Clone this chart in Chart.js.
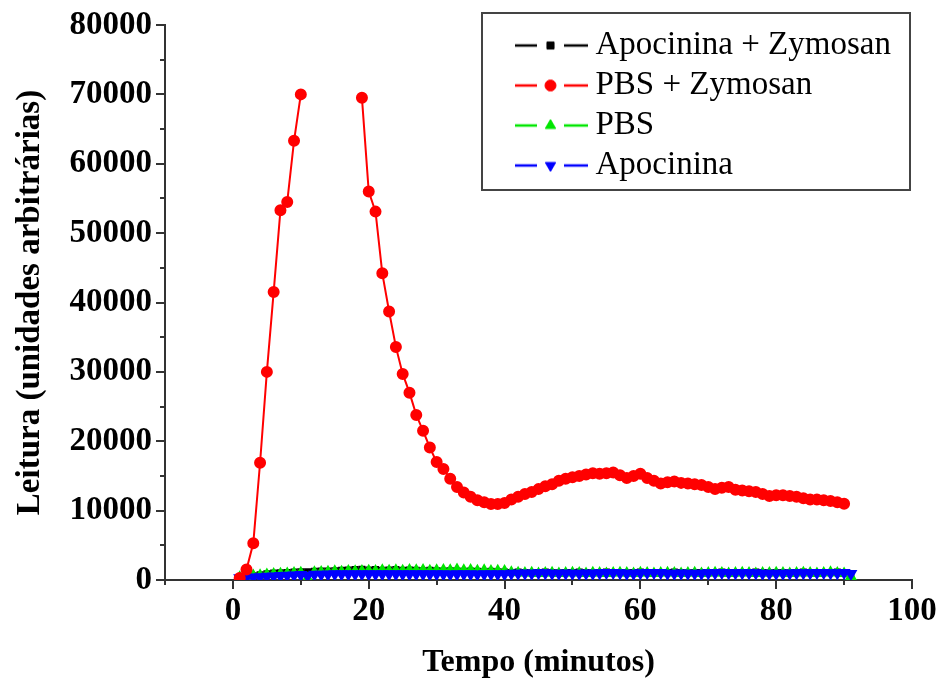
<!DOCTYPE html>
<html>
<head>
<meta charset="utf-8">
<script src="https://cdn.jsdelivr.net/npm/chart.js@4/dist/chart.umd.min.js"></script>
<style>
  html, body { margin: 0; padding: 0; background: #ffffff; }
  #wrap { width: 942px; height: 686px; }
</style>
</head>
<body>
<div id="wrap"><canvas id="c" width="942" height="686"></canvas></div>
<script>
// ---------------- DATA ----------------
const minutes = [1,2,3,4,5,6,7,8,9,10,11,12,13,14,15,16,17,18,19,20,
  21,22,23,24,25,26,27,28,29,30,31,32,33,34,35,36,37,38,39,40,
  41,42,43,44,45,46,47,48,49,50,51,52,53,54,55,56,57,58,59,60,
  61,62,63,64,65,66,67,68,69,70,71,72,73,74,75,76,77,78,79,80,
  81,82,83,84,85,86,87,88,89,90,91];

const seriesNames = ["Apocinina + Zymosan", "PBS + Zymosan", "PBS", "Apocinina"];

// Apocinina + Zymosan (black)
const apoZym = [300,450,600,750,900,1000,1050,1100,1150,1200,
  1200,1250,1300,1300,1350,1400,1450,1500,1550,1450,
  1500,1400,1450,1500,1400,1450,1400,1350,1400,1350,
  1300,1350,1300,1250,1300,1250,1200,1250,1200,1150,
  1100,1150,1100,1050,1100,1150,1100,1050,1100,1100,
  1150,1100,1050,1100,1150,1100,1100,1050,1100,1150,
  1100,1050,1100,1100,1150,1100,1050,1100,1100,1050,
  1100,1150,1100,1050,1100,1100,1150,1100,1050,1100,
  1100,1050,1100,1150,1100,1050,1100,1100,1150,1100,600];

// PBS + Zymosan (red); null = off-scale readings not plotted
const pbsZym = [300,1500,5300,16900,30000,41500,53300,54500,63300,70000,
  null,null,null,null,null,null,null,null,69500,56000,
  53100,44200,38700,33600,29700,27000,23800,21500,19100,17000,
  16000,14600,13400,12600,12000,11500,11200,10950,10950,11100,
  11600,12000,12400,12700,13100,13500,13800,14300,14600,14800,
  15000,15200,15400,15300,15400,15500,15100,14700,15000,15300,
  14700,14300,13900,14100,14200,14000,13900,13800,13700,13400,
  13100,13300,13400,13000,12900,12800,12700,12400,12100,12200,
  12200,12100,12000,11800,11600,11600,11500,11400,11200,11000];

// PBS (green)
const pbs = [400,500,650,700,800,850,900,950,1000,1050,
  250,1100,1150,1200,1250,1200,1300,1250,1300,1350,
  1300,1400,1350,1400,1350,1450,1400,1450,1350,1400,
  1450,1400,1500,1400,1450,1350,1400,1300,1350,1300,
  1100,1050,1000,1050,950,1000,1050,950,1000,1050,
  1000,950,1050,1000,950,1000,1050,1000,950,1050,
  1000,950,1000,1050,1000,950,1000,1050,950,1000,
  1050,1000,950,1000,1050,1000,950,1000,1000,1050,
  1000,950,1000,1050,1000,950,1000,1100,1000,950,500];

// Apocinina (blue)
const apo = [300,350,400,450,500,550,600,650,700,750,
  600,800,800,820,850,850,860,850,870,860,
  850,860,870,860,850,860,870,860,850,860,
  850,840,850,860,850,840,850,860,850,850,
  950,950,960,950,1000,1000,950,950,960,950,
  950,960,950,1000,1050,1050,1000,950,950,1000,
  1050,1050,1050,950,950,960,950,950,950,1000,
  1000,1050,1000,1000,1000,1000,1000,950,950,950,
  950,960,1000,1000,1000,1050,1050,1000,1000,1050,900];

const xTickValues = [0,20,40,60,80,100];
const xMinorValues = [-10,10,30,50,70,90];
const yMinorValues = [5000,15000,25000,35000,45000,55000,65000,75000];

// ---------------- HELPERS ----------------
function toPoints(vals) {
  return vals.map((v, i) => ({ x: minutes[i], y: v }));
}

const FONT = "'Liberation Serif', 'Times New Roman', serif";

function legendSymbol(color, style, rotation, radius) {
  const cv = document.createElement('canvas');
  cv.width = 75; cv.height = 20;
  const g = cv.getContext('2d');
  g.strokeStyle = color; g.lineWidth = 2.5;
  g.beginPath(); g.moveTo(0, 10); g.lineTo(24, 10); g.moveTo(51, 10); g.lineTo(75, 10); g.stroke();
  g.fillStyle = color; g.strokeStyle = color; g.lineWidth = 1;
  if (Chart.helpers && Chart.helpers.drawPoint) {
    Chart.helpers.drawPoint(g, { pointStyle: style, radius: radius, rotation: rotation, borderWidth: 1 }, 37.5, 10);
  }
  return cv;
}

const colors = ['#000000', '#ff0000', '#00e600', '#0000ff'];
const styles = ['rect', 'circle', 'triangle', 'triangle'];
const rotations = [0, 0, 0, 180];
const radii = [5, 5.5, 6, 6];
const symbols = colors.map((c, i) => legendSymbol(c, styles[i], rotations[i], radii[i]));

// minor ticks + legend frame plugin
const decor = {
  id: 'decor',
  afterLayout(chart) {
    const lg = chart.legend;
    if (!lg) return;
    const ca = chart.chartArea;
    lg.left = ca.right - 397; lg.top = ca.top - 3;
    lg.right = lg.left + lg.width; lg.bottom = lg.top + lg.height;
  },
  beforeDatasetsDraw(chart) {
    const ctx = chart.ctx;
    const lg = chart.legend;
    const ca = chart.chartArea;
    ctx.save();
    ctx.strokeStyle = '#444'; ctx.lineWidth = 2;
    ctx.strokeRect(lg.left - 33, lg.top - 9, (ca.right - 2) - (lg.left - 33), 177);
    // minor ticks
    const xs = chart.scales.x, ys = chart.scales.y;
    ctx.strokeStyle = '#333'; ctx.lineWidth = 2;
    ctx.beginPath();
    xMinorValues.forEach(v => {
      const px = Math.round(xs.getPixelForValue(v));
      ctx.moveTo(px, ys.bottom); ctx.lineTo(px, ys.bottom + 5);
    });
    yMinorValues.forEach(v => {
      const py = Math.round(ys.getPixelForValue(v));
      ctx.moveTo(xs.left, py); ctx.lineTo(xs.left - 5, py);
    });
    ctx.stroke();
    ctx.restore();
  }
};

const datasets = [
  { label: seriesNames[0], data: toPoints(apoZym), borderColor: colors[0], backgroundColor: colors[0],
    pointStyle: 'rect', pointRadius: 3.5, borderWidth: 2, order: 4 },
  { label: seriesNames[1], data: toPoints(pbsZym), borderColor: colors[1], backgroundColor: colors[1],
    pointStyle: 'circle', pointRadius: 5, borderWidth: 2, order: 1, spanGaps: false },
  { label: seriesNames[2], data: toPoints(pbs), borderColor: colors[2], backgroundColor: colors[2],
    pointStyle: 'triangle', pointRadius: 5, borderWidth: 2, order: 3 },
  { label: seriesNames[3], data: toPoints(apo), borderColor: colors[3], backgroundColor: colors[3],
    pointStyle: 'triangle', pointRotation: 180, pointRadius: 5.5, borderWidth: 2, order: 2 }
];

new Chart(document.getElementById('c'), {
  type: 'line',
  data: { datasets },
  plugins: [decor],
  options: {
    responsive: false,
    animation: false,
    events: [],
    layout: { padding: { left: 0, right: 30, top: 25, bottom: 0 } },
    elements: { line: { tension: 0 }, point: { borderWidth: 1 } },
    plugins: {
      tooltip: { enabled: false },
      legend: {
        position: 'chartArea',
        align: 'start',
        labels: {
          usePointStyle: true,
          pointStyleWidth: 57,
          padding: 7,
          color: '#000',
          font: { family: FONT, size: 33, weight: 'normal', lineHeight: 1.0 },
          sort: (a, b) => a.datasetIndex - b.datasetIndex,
          generateLabels(chart) {
            return seriesNames.map((n, i) => ({
              text: n, datasetIndex: i, pointStyle: symbols[i],
              fillStyle: colors[i], strokeStyle: colors[i], lineWidth: 0, hidden: false, fontColor: '#000'
            }));
          }
        }
      }
    },
    scales: {
      x: {
        type: 'linear', min: -10, max: 100,
        afterFit(s) { s.height = 106; },
        border: { display: true, color: '#333', width: 2 },
        grid: { drawOnChartArea: false, drawTicks: true, tickLength: 9, color: '#333', lineWidth: 2 },
        afterBuildTicks(s) { s.ticks = xTickValues.map(v => ({ value: v })); },
        ticks: {
          color: '#000', padding: 3, maxRotation: 0,
          font: { family: FONT, size: 33, weight: 'bold' },
          callback: v => String(v)
        },
        title: {
          display: true, text: 'Tempo (minutos)', color: '#000',
          font: { family: FONT, size: 32, weight: 'bold' },
          padding: { top: 0, bottom: 4 }
        }
      },
      y: {
        type: 'linear', min: 0, max: 80000,
        afterFit(s) { s.width = 165; },
        border: { display: true, color: '#333', width: 2 },
        grid: { drawOnChartArea: false, drawTicks: true, tickLength: 9, color: '#333', lineWidth: 2 },
        ticks: {
          stepSize: 10000, color: '#000', padding: 4,
          font: { family: FONT, size: 33, weight: 'bold' },
          callback: v => String(v)
        },
        title: {
          display: true, text: 'Leitura (unidades arbitrárias)', color: '#000',
          font: { family: FONT, size: 33, weight: 'bold' },
          padding: { top: 11, bottom: 0 }
        }
      }
    }
  }
});
</script>
</body>
</html>
